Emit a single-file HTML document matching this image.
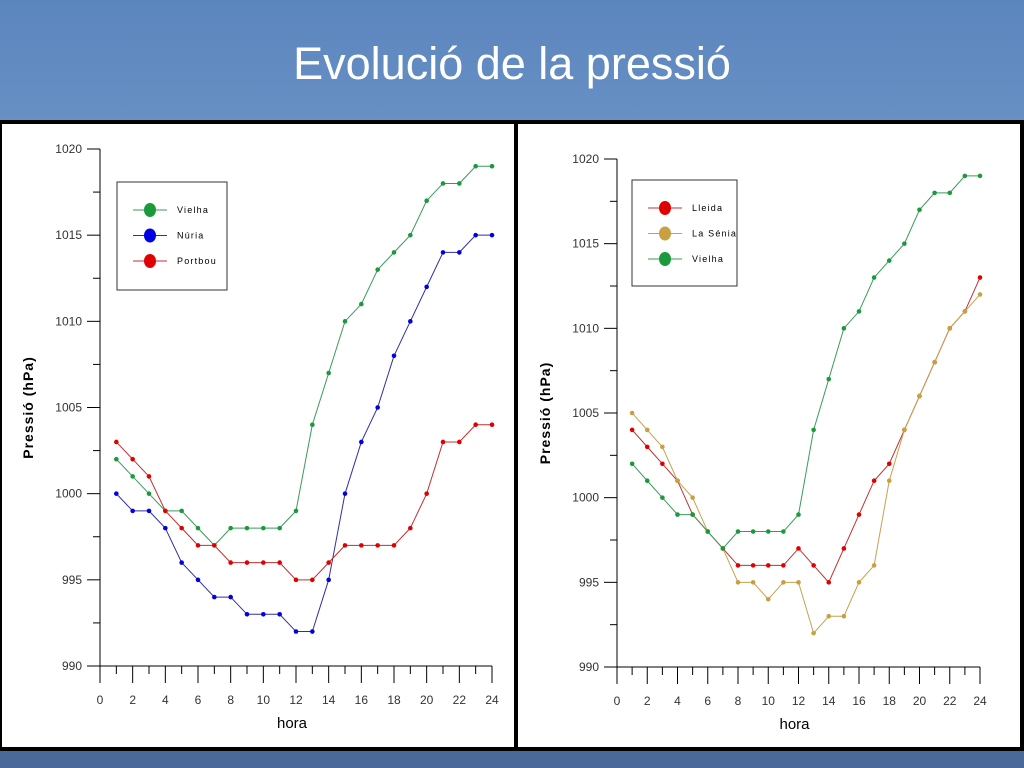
<!DOCTYPE html>
<html><head><meta charset="utf-8"><style>
body{margin:0;width:1024px;height:768px;overflow:hidden;font-family:"Liberation Sans",sans-serif;
background:linear-gradient(180deg,#5b85bd 0%,#7ea4d2 45%,#93b5dc 75%,#86a9d6 100%);}
#title{position:absolute;left:0;width:1024px;top:38px;text-align:center;color:#fff;font-size:45px;}
#bottom{position:absolute;left:0;top:748px;width:1024px;height:20px;background:#4a6898;}
svg{position:absolute;left:0;top:0}
</style></head><body>
<div id="title">Evolució de la pressió</div>
<div id="bottom"></div>
<svg id="svg" width="1024" height="768"></svg>
<script>
const hours=[1,2,3,4,5,6,7,8,9,10,11,12,13,14,15,16,17,18,19,20,21,22,23,24];
const vielha=[1002,1001,1000,999,999,998,997,998,998,998,998,999,1004,1007,1010,1011,1013,1014,1015,1017,1018,1018,1019,1019];
const nuria=[1000,999,999,998,996,995,994,994,993,993,993,992,992,995,1000,1003,1005,1008,1010,1012,1014,1014,1015,1015];
const portbou=[1003,1002,1001,999,998,997,997,996,996,996,996,995,995,996,997,997,997,997,998,1000,1003,1003,1004,1004];
const lleida=[1004,1003,1002,1001,999,998,997,996,996,996,996,997,996,995,997,999,1001,1002,1004,1006,1008,1010,1011,1013];
const lasenia=[1005,1004,1003,1001,1000,998,997,995,995,994,995,995,992,993,993,995,996,1001,1004,1006,1008,1010,1011,1012];
const yTicks=[990,995,1000,1005,1010,1015,1020];
const xTicks=[0,2,4,6,8,10,12,14,16,18,20,22,24];
const NS="http://www.w3.org/2000/svg";
const svg=document.getElementById('svg');
function mk(tag,attrs,parent){const e=document.createElementNS(NS,tag);for(const k in attrs)e.setAttribute(k,attrs[k]);(parent||svg).appendChild(e);return e;}
let p=mk('rect',{x:0,y:122,width:516,height:627,fill:'#fff',stroke:'#000','stroke-width':4});


p=mk('rect',{x:516,y:122,width:506,height:627,fill:'#fff',stroke:'#000','stroke-width':4});


function chart(cfg){
  const g=mk('g',{});
  
  
  const X=h=>cfg.x0+(cfg.x1-cfg.x0)*h/24;
  const Y=v=>cfg.y1+(cfg.y0-cfg.y1)*(v-990)/30;
  mk('line',{x1:cfg.x0,y1:Y(1020),x2:cfg.x0,y2:Y(990)+17,stroke:'#000'},g);
  mk('line',{x1:cfg.x0,y1:Y(990),x2:cfg.x1,y2:Y(990),stroke:'#000'},g);
  for(let v=990;v<=1020;v+=2.5){const maj=(v%5===0);mk('line',{x1:cfg.x0-(maj?13:7),y1:Y(v),x2:cfg.x0,y2:Y(v),stroke:'#000'},g);}
  yTicks.forEach(v=>{const t=mk('text',{x:cfg.x0-18,y:Y(v)+4,'text-anchor':'end','font-size':12,fill:'#333'},g);t.textContent=v;
    
    });
  for(let h=1;h<=24;h++){const maj=h%2===0;mk('line',{x1:X(h),y1:Y(990),x2:X(h),y2:Y(990)+(maj?17:8),stroke:'#000'},g);}
  xTicks.forEach(h=>{const t=mk('text',{x:X(h),y:Y(990)+38,'text-anchor':'middle','font-size':12,fill:'#333'},g);t.textContent=h;
    
    });
  let t=mk('text',{x:(cfg.x0+cfg.x1)/2-4,y:Y(990)+62,'text-anchor':'middle','font-size':15,fill:'#000'},g);t.textContent='hora';
  
  
  const cy=(Y(990)+Y(1020))/2;
  t=mk('text',{x:cfg.x0-67,y:cy,'text-anchor':'middle','font-size':14,'font-weight':'bold','letter-spacing':1,fill:'#000',transform:`rotate(-90 ${cfg.x0-67} ${cy})`},g);t.textContent='Pressió (hPa)';
  
  
  cfg.series.forEach(s=>{
    const pl=mk('polyline',{points:hours.map((h,i)=>X(h)+','+Y(s.data[i])).join(' '),fill:'none',stroke:s.line,'stroke-width':1},g);
    
    
    hours.forEach((h,i)=>{const c=mk('circle',{cx:X(h),cy:Y(s.data[i]),r:2.3,fill:s.color},g);
      
      });
  });
  const L=cfg.legend;
  const lg=mk('g',{},g);
  
  
  mk('rect',{x:L.x,y:L.y,width:L.w,height:L.h,fill:'#fff',stroke:'#333','stroke-width':1},lg);
  cfg.series.forEach((s,i)=>{const yy=L.y+28+i*25.5;
    mk('line',{x1:L.x+16,y1:yy,x2:L.x+50,y2:yy,stroke:s.line},lg);
    mk('ellipse',{cx:L.x+33,cy:yy,rx:6,ry:7,fill:s.color},lg);
    const tt=mk('text',{x:L.x+60,y:yy+3,'font-size':9,'letter-spacing':1.2,fill:'#000'},lg);tt.textContent=s.label;
    
    });
}
chart({name:'left-chart',x0:100,x1:492,y0:149,y1:666,legend:{x:117,y:182,w:110,h:108},series:[
 {key:'vielha',label:'Vielha',data:vielha,color:'#1a9a3a',line:'#3a9a5a'},
 {key:'nuria',label:'Núria',data:nuria,color:'#0000e0',line:'#3030a0'},
 {key:'portbou',label:'Portbou',data:portbou,color:'#e00000',line:'#c03030'}]});
chart({name:'right-chart',x0:617,x1:980,y0:159,y1:667,legend:{x:632,y:180,w:105,h:106},series:[
 {key:'lleida',label:'Lleida',data:lleida,color:'#e00000',line:'#c03030'},
 {key:'lasenia',label:'La Sénia',data:lasenia,color:'#c8a040',line:'#c8a050'},
 {key:'vielha-r',label:'Vielha',data:vielha,color:'#1a9a3a',line:'#3a9a5a'}]});
</script>
</body></html>
